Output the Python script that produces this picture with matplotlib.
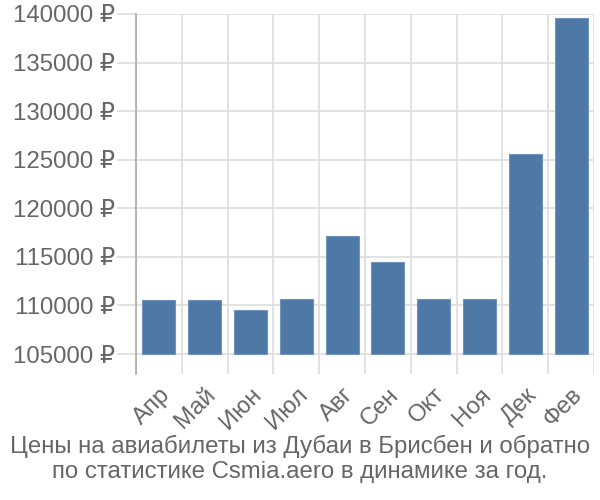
import matplotlib
matplotlib.use("Agg")
import matplotlib.pyplot as plt
import numpy as np

months = ["Апр", "Май", "Июн", "Июл", "Авг", "Сен", "Окт", "Ноя", "Дек", "Фев"]
prices = [110600, 110600, 109500, 110700, 117200, 114500, 110700, 110700, 125600, 139600]
yticks = [105000, 110000, 115000, 120000, 125000, 130000, 135000, 140000]
title = "Цены на авиабилеты из Дубаи в Брисбен и обратно\nпо статистике Csmia.aero в динамике за год."

plt.rcParams['font.family'] = ['Liberation Sans', 'DejaVu Sans']

fig = plt.figure(figsize=(6, 5), dpi=100)
ax = fig.add_axes([136/600, 1-374/500, (594-136)/600, (374-14)/500])

base = 105000
x = np.arange(len(months))
ax.bar(x, [p - base for p in prices], bottom=base, width=0.72,
       color="#4e79a7", edgecolor="#6f93bb", linewidth=0.8, zorder=3)

ax.set_xlim(-0.5, len(months) - 0.5)
ax.set_ylim(102950, 140000)
ax.set_yticks(yticks)
ax.set_yticklabels([f"{v} ₽" for v in yticks])
ax.set_xticks(x)
ax.set_xticklabels(months, rotation=45, ha="right", rotation_mode="anchor")
ax.set_xticks(np.arange(-0.5, len(months)), minor=True)

ax.grid(True, axis="y", which="major", color="#dddddd", linewidth=1.2, zorder=0)
ax.grid(True, axis="x", which="minor", color="#dddddd", linewidth=1.2, zorder=0)
ax.grid(False, axis="x", which="major")

for s in ["top", "right", "bottom"]:
    ax.spines[s].set_visible(False)
ax.spines["left"].set_color("#aaaaaa")
ax.spines["left"].set_linewidth(1.2)

ax.tick_params(axis="y", which="major", length=14, color="#dddddd", width=1.2,
               labelsize=17.3, labelcolor="#666666", pad=1)
ax.tick_params(axis="x", which="major", length=0, labelsize=17.3, labelcolor="#666666", pad=7)
ax.tick_params(axis="x", which="minor", length=0)

fig.text(0.5, 1 - 459/500, title, ha="center", va="center", fontsize=17.3,
         color="#666666", linespacing=1.15)

fig.savefig("out.png", dpi=100)
